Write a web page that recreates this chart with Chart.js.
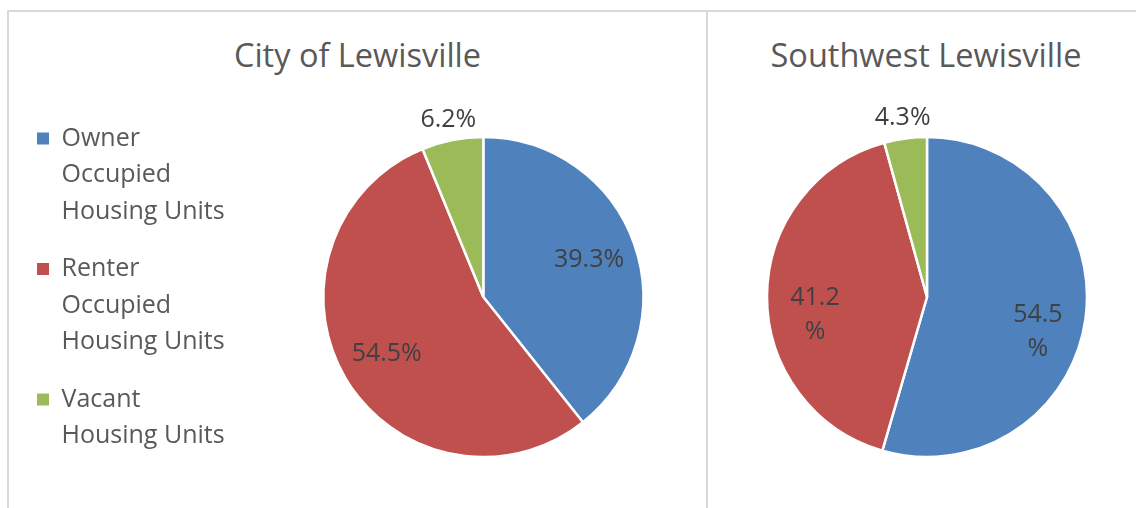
<!DOCTYPE html>
<html>
<head>
<meta charset="utf-8">
<script src="https://cdn.jsdelivr.net/npm/chart.js@4.4.0/dist/chart.umd.min.js"></script>
<style>
  body { margin: 0; width: 1136px; height: 508px; overflow: hidden; background: #fff; position: relative; font-family: 'Open Sans', sans-serif; }
  .frame { position: absolute; left: 7px; top: 10px; width: 1200px; height: 600px; border-top: 2px solid #D9D9D9; border-left: 2px solid #D9D9D9; }
  .divider { position: absolute; left: 706px; top: 10px; width: 2px; height: 510px; background: #D9D9D9; }
  .title { position: absolute; top: 35px; height: 40px; line-height: 40px; text-align: center; font-size: 32.5px; color: #595959; white-space: nowrap; }
  .box { position: absolute; }
</style>
</head>
<body>
<div class="frame"></div>
<div class="divider"></div>
<div class="title" id="titleCity" style="left:8px; width:699px;"></div>
<div class="title" id="titleSw" style="left:707px; width:438px;"></div>
<div class="box" style="left:10px; top:80px; width:722px; height:428px;"><canvas id="cityChart"></canvas></div>
<div class="box" style="left:709px; top:80px; width:427px; height:428px;"><canvas id="swChart"></canvas></div>
<script>
// chart data
const categories = [
    ['Owner', 'Occupied', 'Housing Units'],
    ['Renter', 'Occupied', 'Housing Units'],
    ['Vacant', 'Housing Units']
];
const cityValues = [39.3, 54.5, 6.2];        // City of Lewisville, %
const southwestValues = [54.5, 41.2, 4.3];   // Southwest Lewisville, %
const chartTitles = ['City of Lewisville', 'Southwest Lewisville'];
const sliceColors = ['#4F81BD', '#C0504D', '#9BBB59'];

document.getElementById('titleCity').textContent = chartTitles[0];
document.getElementById('titleSw').textContent = chartTitles[1];

// percentage labels drawn on / next to each slice
const sliceLabels = {
    id: 'sliceLabels',
    afterDatasetsDraw(chart, args, opts) {
        const ctx = chart.ctx;
        const values = chart.data.datasets[0].data;
        ctx.save();
        ctx.font = '25px "Open Sans"';
        ctx.fillStyle = '#404040';
        ctx.textAlign = 'center';
        ctx.textBaseline = 'middle';
        chart.getDatasetMeta(0).data.forEach(function(arc, i) {
            const outside = values[i] < 8; // small slices get their label outside
            const mid = (arc.startAngle + arc.endAngle) / 2;
            const r = arc.outerRadius * (outside ? 1.13 : 0.7);
            const x = arc.x + Math.cos(mid) * r;
            const y = arc.y + Math.sin(mid) * r;
            const txt = values[i].toFixed(1);
            if (opts.wrap && !outside) {
                // narrow label box: number on first line, % below it
                ctx.fillText(txt, x, y + 2);
                ctx.fillText('%', x, y + 36);
            } else {
                ctx.fillText(txt + '%', x, y);
            }
        });
        ctx.restore();
    }
};

function pieOptions(showLegend, wrap, padding) {
    return {
        responsive: true,
        maintainAspectRatio: false,
        animation: false,
        radius: 160,
        layout: { padding: padding },
        plugins: {
            tooltip: { enabled: false },
            title: { display: false },
            sliceLabels: { wrap: wrap },
            legend: {
                display: showLegend,
                position: 'left',
                align: 'start',
                fullSize: false,
                labels: {
                    boxWidth: 12,
                    boxHeight: 12,
                    padding: 21,
                    color: '#595959',
                    font: { family: 'Open Sans', size: 25, lineHeight: 1.46 },
                    // plain filled squares, no white slice border round them
                    generateLabels: function(chart) {
                        const items = Chart.overrides.pie.plugins.legend.labels.generateLabels(chart);
                        items.forEach(function(it) { it.lineWidth = 0; });
                        return items;
                    }
                }
            }
        }
    };
}

var cityChart = new Chart(document.getElementById('cityChart'), {
    type: 'pie',
    data: {
        labels: categories,
        datasets: [{
            data: cityValues,
            backgroundColor: sliceColors,
            borderColor: '#ffffff',
            borderWidth: 2.5
        }]
    },
    options: pieOptions(true, false, { left: 6, top: 25, bottom: 19, right: 0 }),
    plugins: [sliceLabels]
});

var swChart = new Chart(document.getElementById('swChart'), {
    type: 'pie',
    data: {
        labels: categories,
        datasets: [{
            data: southwestValues,
            backgroundColor: sliceColors,
            borderColor: '#ffffff',
            borderWidth: 2.5
        }]
    },
    options: pieOptions(false, true, { left: 9, top: 25, bottom: 19, right: 0 }),
    plugins: [sliceLabels]
});
</script>
</body>
</html>
